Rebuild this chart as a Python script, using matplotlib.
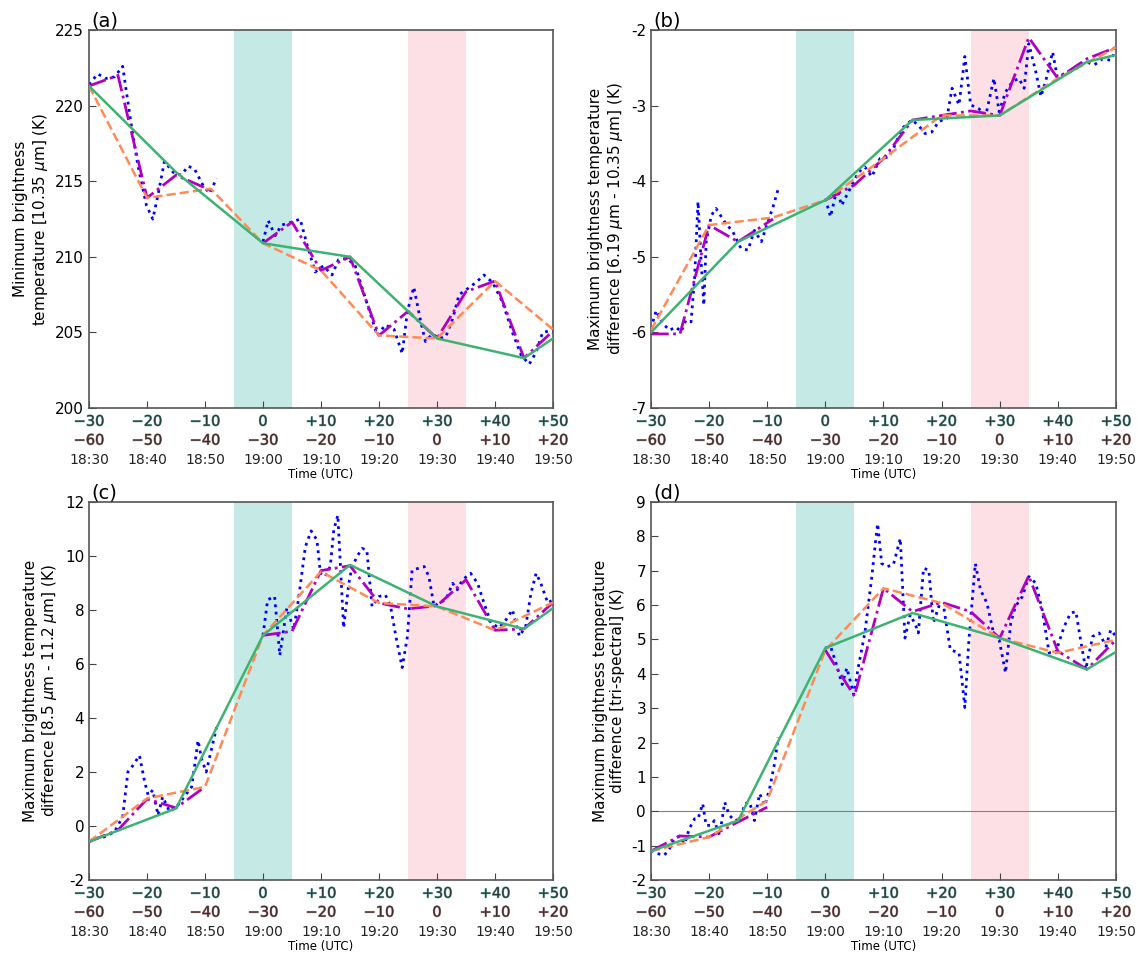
import numpy as np
import matplotlib
matplotlib.use('Agg')
import matplotlib.pyplot as plt
import matplotlib.patheffects as pe

nan = np.nan
plt.rcParams['axes.unicode_minus'] = False

# time axis (minutes relative to 19:00 UTC)
tick_t = [-30, -20, -10, 0, 10, 20, 30, 40, 50]
row1 = ['−30', '−20', '−10', '0', '+10', '+20', '+30', '+40', '+50']
row2 = ['−60', '−50', '−40', '−30', '−20', '−10', '0', '+10', '+20']
row3 = ['18:30', '18:40', '18:50', '19:00', '19:10', '19:20', '19:30', '19:40', '19:50']

t_green = [-30, -15, 0, 15, 30, 45, 50]
t_mag = [-30, -25, -20, -15, -10, -5, 0, 5, 10, 15, 20, 25, 30, 35, 40, 45, 50]
t_orange = [-30, -20, -10, 0, 10, 20, 30, 40, 50]
t_mag_ab = [-30, -25, -20, -15, -9, -5, 0, 5, 10, 15, 20, 25, 30, 35, 40, 45, 50]
t_orange_ab = [-30, -20, -9, 0, 10, 20, 30, 40, 50]

# (a) minimum BT 10.35 um
a_blue_t = [-30, -28.5, -27.1, -25.6, -24.2, -22.7, -21.6, -20.1, -19.0, -18.1, -17.0, -15.5, -14.1, -12.9, -11.8,
            -10.3, -9.2, -8.0, -4, 0, 0.9, 2.1, 3.2, 5.0, 6.4, 7.6, 9.0, 10.4, 11.9, 13.0, 14.5, 15.9, 17.7, 19.7,
            21.1, 22.6, 24.0, 24.9, 26.0, 27.2, 28.0, 29.2, 30.3, 31.5, 32.7, 33.8, 35.3, 36.7, 38.1, 39.6, 41.3,
            43.0, 44.5, 45.9, 47.1, 48.2, 49.4, 50.0]
a_blue = [221.4, 222.1, 221.8, 221.9, 222.6, 218.7, 216.1, 213.4, 212.5, 214.1, 216.3, 215.6, 215.4, 216.0, 215.8,
          214.7, 214.2, 215.2, nan, 211.0, 212.4, 211.4, 212.1, 212.3, 212.5, 210.8, 209.0, 209.4, 208.8, 209.8,
          209.9, 209.4, 207.2, 204.8, 205.5, 205.2, 203.6, 206.4, 208.0, 205.7, 204.4, 204.9, 204.6, 204.7, 205.9,
          207.5, 207.9, 208.3, 208.8, 208.3, 207.0, 205.0, 203.5, 202.9, 203.7, 205.0, 205.1, 205.0]
a_mag = [221.3, 222.0, 213.9, 215.4, 214.4, nan, 210.9, 212.3, 209.1, 210.0, 204.8, 206.4, 204.6, 207.7, 208.4,
         203.3, 205.1]
a_orange = [221.3, 213.9, 214.5, 210.9, 209.1, 204.8, 204.6, 208.4, 205.2]
a_green = [221.3, 215.6, 210.9, 210.0, 204.6, 203.3, 204.6]

# (b) max BTD 6.19 - 10.35 um
b_blue_t = [-30, -29.1, -28.0, -26.8, -25.7, -24.8, -24.0, -23.1, -22.5, -21.9, -21.4, -20.9, -20.5, -19.6, -18.8,
            -17.3, -15.9, -14.5, -13.3, -12.2, -11.0, -9.9, -9.0, -8.1, -4, 0, 0.9, 2.0, 2.8, 5.7, 6.8, 8.0, 9.4,
            10.9, 12.0, 13.2, 14.9, 16.0, 17.2, 18.3, 19.5, 20.9, 21.8, 23.0, 24.0, 25.0, 26.4, 27.6, 29.0, 29.9,
            31.0, 32.2, 33.3, 34.2, 35.0, 36.2, 37.1, 37.9, 39.1, 39.9, 41.4, 43.1, 44.8, 46.3, 47.7, 49.1, 50.0]
b_blue = [-5.95, -5.71, -5.88, -5.97, -5.93, -5.99, -5.84, -5.86, -5.29, -4.27, -5.02, -5.64, -4.80, -4.45, -4.36,
          -4.54, -4.67, -4.89, -4.91, -4.65, -4.80, -4.54, -4.34, -4.10, nan, -4.23, -4.47, -4.10, -4.32, -3.88,
          -3.81, -3.94, -3.70, -3.68, -3.52, -3.30, -3.19, -3.26, -3.37, -3.35, -3.21, -3.17, -2.77, -2.99, -2.35,
          -2.99, -3.04, -3.13, -2.64, -3.08, -2.82, -2.68, -2.64, -2.77, -2.18, -2.55, -2.88, -2.68, -2.29, -2.62,
          -2.57, -2.51, -2.42, -2.46, -2.38, -2.40, -2.26]
b_mag = [-6.02, -6.02, -4.58, -4.80, -4.50, nan, -4.25, -4.05, -3.70, -3.19, -3.13, -3.07, -3.13, -2.10, -2.64,
         -2.38, -2.23]
b_orange = [-5.97, -4.58, -4.48, -4.25, -3.70, -3.13, -3.13, -2.64, -2.23]
b_green = [-6.0, -4.80, -4.25, -3.19, -3.13, -2.42, -2.33]

# (c) max BTD 8.5 - 11.2 um
c_blue_t = [-30, -28.5, -27.1, -25.6, -24.2, -23.3, -22.4, -21.3, -20.4, -19.8, -19.0, -18.1, -17.3, -16.1, -14.9,
            -13.8, -12.3, -11.2, -10.6, -9.8, -8.0, -4, 0, 0.8, 2.0, 2.9, 4.1, 5.3, 6.1, 7.3, 8.3, 9.3, 9.9, 10.7,
            11.6, 12.2, 12.9, 13.9, 14.8, 15.3, 16.2, 17.1, 17.9, 18.8, 20.0, 21.1, 22.0, 22.9, 24.0, 24.9, 25.7,
            26.9, 27.8, 28.6, 29.5, 30.3, 31.5, 32.7, 33.5, 34.4, 35.8, 37.0, 38.1, 39.3, 40.7, 41.9, 43.0, 44.2,
            45.3, 46.2, 47.1, 47.9, 49.1, 50.0]
c_blue = [-0.58, -0.45, -0.39, -0.21, 0.34, 2.0, 2.25, 2.61, 1.63, 1.14, 1.33, 0.40, 1.08, 0.53, 0.71, 1.02, 1.45,
          3.17, 2.49, 2.0, 3.66, nan, 7.06, 8.38, 8.50, 6.32, 8.07, 7.28, 8.38, 10.34, 10.93, 10.59, 9.36, 9.24,
          9.61, 10.96, 11.51, 7.34, 8.99, 9.55, 9.98, 10.28, 10.22, 8.13, 8.50, 8.56, 8.13, 7.03, 5.87, 7.03, 9.48,
          9.55, 9.61, 9.24, 8.13, 8.26, 8.38, 8.99, 8.75, 9.12, 9.36, 8.99, 8.26, 7.52, 7.34, 7.64, 8.01, 7.03,
          7.40, 8.63, 9.36, 8.99, 8.26, 8.38]
c_mag = [-0.58, -0.15, 1.0, 0.67, 1.45, nan, 7.06, 7.21, 9.46, 9.64, 8.26, 8.04, 8.16, 9.12, 7.25, 7.30, 8.28]
c_orange = [-0.58, 1.02, 1.45, 7.06, 9.42, 8.26, 8.13, 7.25, 8.28]
c_green = [-0.58, 0.65, 7.06, 9.67, 8.13, 7.30, 8.07]

# (d) max BTD tri-spectral
d_blue_t = [-30, -28.9, -27.7, -26.8, -26.0, -25.1, -24.2, -23.4, -22.5, -21.9, -21.1, -20.5, -19.6, -19.1, -18.2,
            -17.3, -16.5, -15.6, -14.5, -13.9, -13.0, -12.2, -11.3, -10.4, -9.6, -8.7, -8.1, -4, 0, 0.9, 2.0, 2.9,
            3.7, 4.9, 5.7, 6.8, 8.0, 8.6, 9.0, 9.7, 10.6, 11.7, 12.9, 13.7, 14.6, 15.5, 16.0, 16.9, 17.8, 18.6,
            19.5, 20.4, 21.5, 23.0, 24.0, 24.7, 25.8, 26.7, 27.8, 29.0, 29.9, 31.0, 31.9, 32.7, 33.9, 35.0, 36.2,
            37.3, 38.5, 39.6, 41.1, 42.2, 43.1, 44.0, 44.8, 46.0, 47.1, 48.3, 49.1, 50.0]
d_blue = [-1.14, -1.23, -1.28, -1.09, -0.80, -0.72, -0.94, -0.51, -0.22, -0.22, 0.22, -0.41, -0.41, -0.27, -0.70,
          0.26, -0.12, -0.27, -0.22, 0.22, 0.26, -0.27, 0.51, 0.17, 0.65, 1.42, 2.15, nan, 4.75, 4.80, 4.22, 3.69,
          4.17, 3.40, 4.22, 5.19, 6.83, 7.79, 8.37, 7.21, 7.12, 7.17, 7.94, 5.04, 5.72, 5.43, 5.19, 7.07, 7.02,
          5.48, 5.96, 5.91, 4.70, 4.61, 3.02, 4.99, 7.21, 6.44, 6.06, 5.14, 4.99, 4.03, 5.48, 5.96, 6.25, 6.83,
          6.64, 5.86, 4.61, 4.61, 5.38, 5.77, 5.81, 4.90, 4.13, 5.09, 5.19, 4.80, 5.28, 5.09]
d_mag = [-1.16, -0.72, -0.75, -0.31, 0.12, nan, 4.69, 3.35, 6.49, 5.81, 6.08, 5.81, 5.04, 6.85, 4.66, 4.13, 4.99]
d_orange = [-1.16, -0.75, 0.31, 4.69, 6.49, 6.06, 5.04, 4.61, 4.99]
d_green = [-1.16, -0.27, 4.75, 5.77, 5.04, 4.13, 4.64]

ylabels = ['Minimum brightness\ntemperature [10.35 $\\mu$m] (K)',
           'Maximum brightness temperature\ndifference [6.19 $\\mu$m - 10.35 $\\mu$m] (K)',
           'Maximum brightness temperature\ndifference [8.5 $\\mu$m - 11.2 $\\mu$m] (K)',
           'Maximum brightness temperature\ndifference [tri-spectral] (K)']

panels = [
    ('(a)', a_blue_t, a_blue, t_mag_ab, a_mag, t_orange_ab, a_orange, a_green, (200, 225), np.arange(200, 226, 5)),
    ('(b)', b_blue_t, b_blue, t_mag_ab, b_mag, t_orange_ab, b_orange, b_green, (-7, -2), np.arange(-7, -1, 1)),
    ('(c)', c_blue_t, c_blue, t_mag, c_mag, t_orange, c_orange, c_green, (-2, 12), np.arange(-2, 13, 2)),
    ('(d)', d_blue_t, d_blue, t_mag, d_mag, t_orange, d_orange, d_green, (-2, 9), np.arange(-2, 10, 1)),
]
positions = [[0.0778, 0.5763, 0.4056, 0.3925],
             [0.5690, 0.5763, 0.4065, 0.3925],
             [0.0778, 0.0862, 0.4056, 0.3925],
             [0.5690, 0.0862, 0.4065, 0.3925]]

# slightly doubled look of the relative-time rows
fx1 = [pe.withStroke(linewidth=0.7, foreground='#6fa8a4')]
fx2 = [pe.withStroke(linewidth=0.7, foreground='#b08888')]

fig = plt.figure(figsize=(11.44, 9.63), dpi=100)

for i, (lab, bt, bv, mt, mv, ot, ov, gv, ylim, yt) in enumerate(panels):
    ax = fig.add_axes(positions[i])
    ax.axvspan(-5, 5, color='#c5eae6', lw=0, zorder=0)
    ax.axvspan(25, 35, color='#fde0e6', lw=0, zorder=0)
    if lab == '(d)':
        ax.axhline(0, color='gray', lw=0.8, zorder=1)

    ax.plot(bt, bv, ':', color='blue', lw=2, zorder=2)
    ax.plot(mt, mv, '-.', color='#b000c0', lw=2, zorder=3)
    ax.plot(ot, ov, '--', color='#ff8a55', lw=1.8, zorder=4)
    ax.plot(t_green, gv, '-', color='#3cb371', lw=1.8, zorder=5)

    ax.set_xlim(-30, 50)
    ax.set_ylim(*ylim)
    ax.set_yticks(yt)
    ax.set_xticks(tick_t)
    ax.set_xticklabels([])
    ax.tick_params(direction='in', top=False, right=False, labelsize=11, length=5, color='#444444')
    for s in ax.spines.values():
        s.set_color('#555555')
        s.set_linewidth(1.2)
    ax.set_ylabel(ylabels[i], fontsize=11)

    tr = ax.get_xaxis_transform()
    for x, r1, r2, r3 in zip(tick_t, row1, row2, row3):
        ax.text(x, -0.035, r1, transform=tr, ha='center', va='center', fontsize=10.5,
                color='#2a3c3a', path_effects=fx1)
        ax.text(x, -0.085, r2, transform=tr, ha='center', va='center', fontsize=10.5,
                color='#3e2c2c', path_effects=fx2)
        ax.text(x, -0.138, r3, transform=tr, ha='center', va='center', fontsize=10, color='#222222')
    ax.text(0.5, -0.176, 'Time (UTC)', transform=ax.transAxes, ha='center', va='center', fontsize=8.5)
    ax.text(0.005, 1.0, lab, transform=ax.transAxes, ha='left', va='bottom', fontsize=14)

fig.savefig('out.png', dpi=100)
